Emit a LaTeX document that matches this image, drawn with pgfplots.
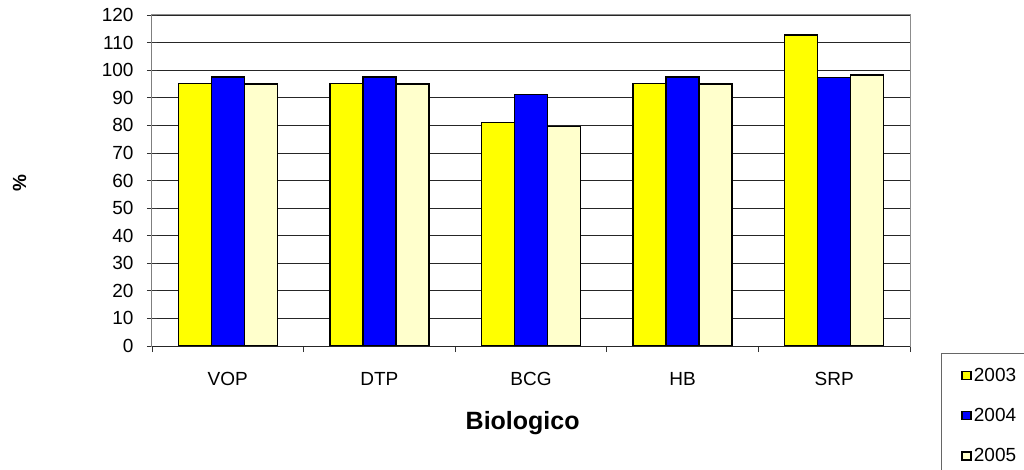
\documentclass[border=0pt]{standalone}
\usepackage{fontspec}
\setmainfont{Liberation Sans}
\usepackage{pgfplots}
\pgfplotsset{compat=1.18}
\definecolor{cyel}{RGB}{255,255,0}
\definecolor{cblu}{RGB}{0,0,255}
\definecolor{ccre}{RGB}{255,255,204}
\begin{document}
\begin{tikzpicture}
\useasboundingbox (-152pt,-123pt) rectangle (872pt,346pt);
\begin{axis}[
  at={(0pt,0pt)}, anchor=south west,
  scale only axis, width=758pt, height=331pt,
  ybar=0pt, bar width=33pt,
  xmin=-0.5, xmax=4.5, ymin=0, ymax=120,
  xtick={0,1,2,3,4},
  xticklabels={VOP,DTP,BCG,HB,SRP},
  minor xtick={-0.5,0.5,1.5,2.5,3.5,4.5},
  xtick pos=bottom, ytick pos=left,
  x tick style={draw=none},
  minor x tick style={draw=black!80, line width=0.8pt, yshift=-3pt},
  minor tick length=6pt,
  ytick={0,10,...,120},
  y tick style={draw=black!80, line width=0.8pt},
  major tick length=10pt,
  tick align=center,
  ymajorgrids, major grid style={black!85, line width=0.7pt},
  axis line style={draw=black!45, line width=1pt},
  /pgf/number format/assume math mode=true,
  tick label style={font=\fontsize{19}{22}\selectfont},
  xticklabel style={yshift=-18pt},
  yticklabel style={xshift=-10pt},
  xlabel={\textbf{Biologico}},
  xlabel style={font=\fontsize{25}{28}\selectfont, at={(axis description cs:0.489,-0.2326)}, anchor=center},
  ylabel={\textbf{\%}},
  ylabel style={font=\fontsize{19}{22}\selectfont, at={(axis description cs:-0.1748,0.4924)}, anchor=center},
  legend style={at={(axis description cs:1.0409,-0.0211)}, anchor=north west,
    draw=black!60, line width=0.8pt, font=\fontsize{19}{21}\selectfont,
    row sep=21.5pt, inner xsep=20pt, inner ysep=12.5pt},
  legend cell align=left,
  legend image code/.code={\draw[#1, line width=1.5pt] (0pt,-4pt) rectangle (9pt,4pt);},
  every axis plot/.append style={draw=black, line width=1.5pt},
]
\addplot[fill=cyel] coordinates {(0,95.2) (1,95.2) (2,81.0) (3,95.2) (4,112.7)};
\addplot[fill=cblu] coordinates {(0,97.6) (1,97.6) (2,91.2) (3,97.6) (4,97.3)};
\addplot[fill=ccre] coordinates {(0,95.0) (1,95.0) (2,79.6) (3,95.0) (4,98.2)};
\legend{2003,2004,2005}
\draw[black!45, line width=1pt] (rel axis cs:0,1) -- (rel axis cs:1,1);
\draw[black!85, line width=1pt] (rel axis cs:0,0) -- (rel axis cs:0,1);
\draw[black!85, line width=1pt] (rel axis cs:0,0) -- (rel axis cs:1,0);
\end{axis}
\end{tikzpicture}
\end{document}
